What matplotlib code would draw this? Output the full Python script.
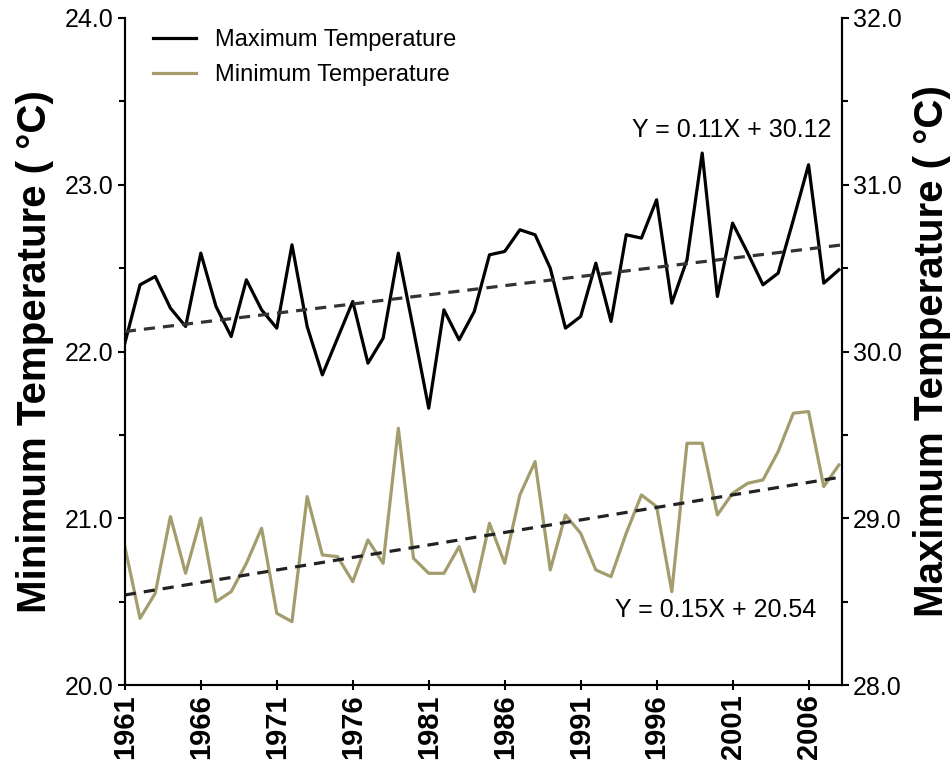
import numpy as np
import matplotlib
matplotlib.use("Agg")
import matplotlib.pyplot as plt
from matplotlib.ticker import MultipleLocator

years = list(range(1961, 2009))

# maximum temperature (right axis, deg C)
tmax = [30.05, 30.40, 30.45, 30.26, 30.15, 30.59, 30.27, 30.09, 30.43, 30.25,
        30.14, 30.64, 30.15, 29.86, 30.08, 30.30, 29.93, 30.08, 30.59, 30.13,
        29.66, 30.25, 30.07, 30.24, 30.58, 30.60, 30.73, 30.70, 30.50, 30.14,
        30.21, 30.53, 30.18, 30.70, 30.68, 30.91, 30.29, 30.55, 31.19, 30.33,
        30.77, 30.59, 30.40, 30.47, 30.79, 31.12, 30.41, 30.49]

# minimum temperature (left axis, deg C)
tmin = [20.83, 20.40, 20.55, 21.01, 20.67, 21.00, 20.50, 20.56, 20.73, 20.94,
        20.43, 20.38, 21.13, 20.78, 20.77, 20.62, 20.87, 20.73, 21.54, 20.76,
        20.67, 20.67, 20.83, 20.56, 20.97, 20.73, 21.14, 21.34, 20.69, 21.02,
        20.91, 20.69, 20.65, 20.91, 21.14, 21.07, 20.56, 21.45, 21.45, 21.02,
        21.15, 21.21, 21.23, 21.40, 21.63, 21.64, 21.19, 21.32]

# trend lines, X in decades since 1961
max_slope, max_icpt = 0.11, 30.12
min_slope, min_icpt = 0.15, 20.54

xticks = list(range(1961, 2007, 5))

narrow = ['Liberation Sans Narrow', 'Liberation Sans', 'DejaVu Sans']
bold = ['Liberation Sans', 'DejaVu Sans']
olive = '#a39d6e'

fig = plt.figure(figsize=(9.53, 7.82), dpi=100)
ax = fig.add_axes([0.131, 0.124, 0.7525, 0.853])
ax2 = ax.twinx()

xend = 2008.2

l2, = ax.plot(years, tmin, color=olive, lw=2.3, label='Minimum Temperature', zorder=3)
xx = np.array([1961, xend])
ax.plot(xx, min_icpt + min_slope * (xx - 1961) / 10, color='#222222', lw=2.3,
        ls=(0, (3.5, 2.5)), zorder=4)

l1, = ax2.plot(years, tmax, color='black', lw=2.3, label='Maximum Temperature', zorder=3)
ax2.plot(xx, max_icpt + max_slope * (xx - 1961) / 10, color='#333333', lw=2.3,
         ls=(0, (3.5, 2.5)), zorder=4)

ax.set_xlim(1961, xend)
ax.set_ylim(20, 24)
ax2.set_ylim(28, 32)

for a in (ax, ax2):
    a.spines['top'].set_visible(False)
    for s in a.spines.values():
        s.set_linewidth(1.5)
    a.yaxis.set_major_locator(MultipleLocator(1.0))
    a.yaxis.set_minor_locator(MultipleLocator(0.5))
    a.tick_params(axis='y', which='major', length=5, width=1.5, labelsize=18, pad=3)
    a.tick_params(axis='y', which='minor', length=4, width=1.5)

ax.set_yticks([20, 21, 22, 23, 24])
ax.set_yticklabels(['20.0', '21.0', '22.0', '23.0', '24.0'], family=narrow)
ax2.set_yticks([28, 29, 30, 31, 32])
ax2.set_yticklabels(['28.0', '29.0', '30.0', '31.0', '32.0'], family=narrow)

ax.set_xticks(xticks)
ax.set_xticklabels([str(y) for y in xticks], rotation=90, family=bold,
                   fontweight='bold', fontsize=21)
ax.tick_params(axis='x', length=7, width=1.5, direction='inout', pad=3)

ax.set_ylabel('Minimum Temperature ( °C)', family=bold, fontweight='bold',
              fontsize=29, labelpad=8)
ax2.set_ylabel('Maximum Temperature ( °C)', family=bold, fontweight='bold',
               fontsize=29, labelpad=8)

ax2.text(2007.5, 31.33, 'Y = 0.11X + 30.12', ha='right', va='center',
         family=narrow, fontsize=18)
ax2.text(2006.5, 28.45, 'Y = 0.15X + 20.54', ha='right', va='center',
         family=narrow, fontsize=18)

leg = ax2.legend(handles=[l1, l2], loc='upper left', frameon=False,
                 bbox_to_anchor=(0.01, 1.015), handlelength=1.8,
                 prop={'family': narrow, 'size': 17}, labelspacing=0.55)

fig.savefig('out.png', dpi=100)
